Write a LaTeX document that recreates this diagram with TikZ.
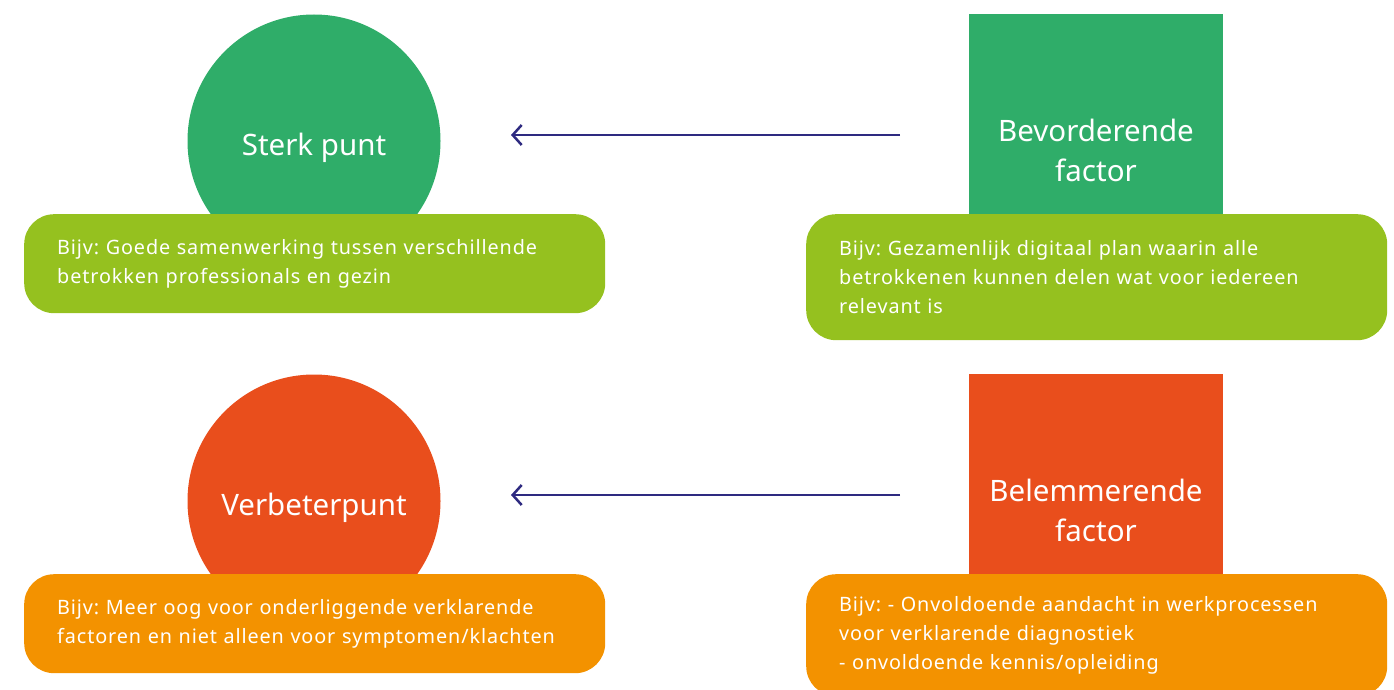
\documentclass[tikz,border=0pt]{standalone}
\usepackage{fontspec}
\setmainfont{Noto Sans}
\newfontfamily\boxfont[LetterSpace=4.5]{Noto Sans}
\usetikzlibrary{arrows.meta}
\definecolor{cgreen}{HTML}{2FAD69}
\definecolor{clime}{HTML}{95C11F}
\definecolor{cred}{HTML}{E94E1C}
\definecolor{corange}{HTML}{F39200}
\definecolor{carrow}{HTML}{2E2A80}
\tikzset{
  circ/.style={circle, minimum size=253pt, inner sep=0pt},
  sq/.style={rectangle, minimum width=254pt, minimum height=200pt, inner sep=0pt, anchor=north west},
  big/.style={text=white, font=\fontsize{29.5}{40}\selectfont, align=center},
  box/.style={rectangle, rounded corners=30pt, anchor=north west, text=white,
    text width=515pt, inner xsep=33pt, inner ysep=0pt, align=left,
    font=\boxfont\fontsize{19.8}{29}\selectfont},
  arr/.style={draw=carrow, line width=2.5pt, -{Straight Barb[length=9pt,width=20pt,line width=2.5pt]}}
}
\frenchspacing
\begin{document}
\begin{tikzpicture}[x=1pt,y=-1pt]
\useasboundingbox (0,0) rectangle (1394,690);
% top row
\node[circ, fill=cgreen] (c1) at (314,141) {};
\node[big] (c1t) at (314,148) {Sterk punt};
\node[box, fill=clime, minimum height=99pt] (b1) at (24,214) {Bijv: Goede samenwerking tussen verschillende\\betrokken professionals en gezin};
\node[sq, fill=cgreen] (s1) at (969,14) {};
\node[big] (s1t) at (1096,150) {Bevorderende\\factor};
\node[box, fill=clime, minimum height=126pt] (b2) at (806,214) {Bijv: Gezamenlijk digitaal plan waarin alle\\betrokkenen kunnen delen wat voor iedereen\\relevant is};
\coordinate (a1s) at (900,135);
\coordinate (a1e) at (511,135);
\draw[arr] (a1s) -- (a1e);
% bottom row
\node[circ, fill=cred] (c2) at (314,501) {};
\node[big] (c2t) at (314,508) {Verbeterpunt};
\node[box, fill=corange, minimum height=99pt] (b3) at (24,574) {Bijv: Meer oog voor onderliggende verklarende\\factoren en niet alleen voor symptomen/klachten};
\node[sq, fill=cred] (s2) at (969,374) {};
\node[big] (s2t) at (1096,510) {Belemmerende\\factor};
\node[box, fill=corange, minimum height=122pt] (b4) at (806,574) {Bijv: - Onvoldoende aandacht in werkprocessen\\voor verklarende diagnostiek\\- onvoldoende kennis/opleiding};
\coordinate (a2s) at (900,495);
\coordinate (a2e) at (511,495);
\draw[arr] (a2s) -- (a2e);
\end{tikzpicture}
\end{document}
